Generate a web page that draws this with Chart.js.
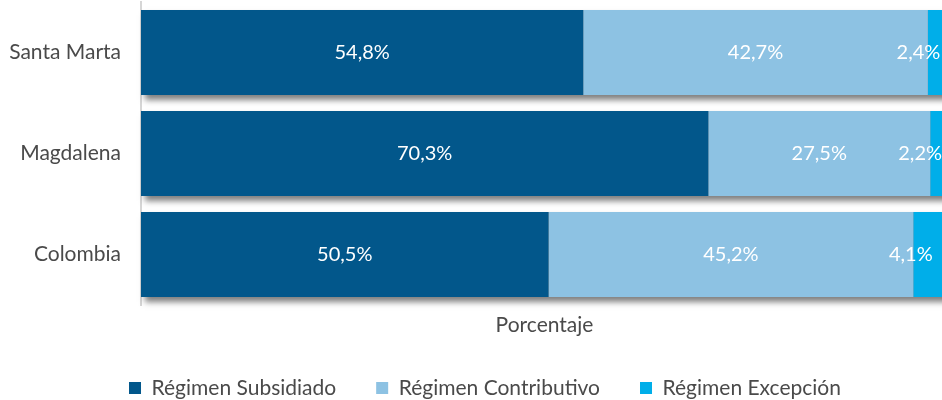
<!DOCTYPE html>
<html><head><meta charset="utf-8">
<script src="https://cdn.jsdelivr.net/npm/chart.js@4/dist/chart.umd.min.js"></script>
<style>html,body{margin:0;padding:0;background:#fff;overflow:hidden;width:942px;height:400px}#wrap{width:948px;height:400px;position:relative}</style>
</head><body><div id="wrap"><canvas id="c"></canvas></div>
<script>
const categories = ['Santa Marta', 'Magdalena', 'Colombia'];
const seriesNames = ['Régimen Subsidiado', 'Régimen Contributivo', 'Régimen Excepción'];
const subsidiado = [54.8, 70.3, 50.5];
const contributivo = [42.7, 27.5, 45.2];
const excepcion = [2.4, 2.2, 4.1];
const axisTitle = 'Porcentaje';

const colors = ['#02578B', '#8DC2E3', '#00AEE9'];
const FONT = 'Lato, "Open Sans", sans-serif';
const TEXT = '#4a4a4a';

const fmt = v => v.toFixed(1).replace('.', ',') + '%';

const shadowPlugin = {
  id: 'barShadow',
  beforeDatasetsDraw(chart) {
    const ctx = chart.ctx;
    const metas = chart.getSortedVisibleDatasetMetas();
    if (!metas.length) return;
    const n = metas[0].data.length;
    ctx.save();
    ctx.shadowColor = 'rgba(0,0,0,0.5)';
    ctx.shadowBlur = 6;
    ctx.shadowOffsetX = 4;
    ctx.shadowOffsetY = 5;
    ctx.fillStyle = '#888';
    for (let i = 0; i < n; i++) {
      let l = Infinity, r = -Infinity, t = 0, b = 0;
      metas.forEach(m => {
        const p = m.data[i].getProps(['x', 'y', 'base', 'height'], true);
        l = Math.min(l, p.base, p.x); r = Math.max(r, p.base, p.x);
        t = p.y - p.height / 2; b = p.y + p.height / 2;
      });
      ctx.fillRect(l, t, r - l, b - t);
    }
    ctx.restore();
  }
};

const labelPlugin = {
  id: 'segLabels',
  afterDatasetsDraw(chart) {
    const ctx = chart.ctx;
    ctx.save();
    ctx.font = '20px ' + FONT;
    ctx.fillStyle = '#ffffff';
    ctx.textAlign = 'center';
    ctx.textBaseline = 'middle';
    chart.getSortedVisibleDatasetMetas().forEach(m => {
      const ds = chart.data.datasets[m.index];
      m.data.forEach((el, i) => {
        const p = el.getProps(['x', 'y', 'base'], true);
        const txt = fmt(ds.data[i]);
        const w = ctx.measureText(txt).width;
        let cx = (p.x + p.base) / 2;
        if (w > Math.abs(p.x - p.base)) cx -= 19;
        ctx.fillText(txt, cx, p.y);
      });
    });
    ctx.restore();
  }
};

const legendShift = {
  id: 'legendShift',
  afterLayout(chart) {
    const lg = chart.legend;
    if (!lg) return;
    const dx = 11, dy = 8.5;
    lg.left += dx; lg.right += dx;
    lg.top += dy; lg.bottom += dy;
  }
};

new Chart(document.getElementById('c'), {
  type: 'bar',
  data: {
    labels: categories,
    datasets: [
      { label: seriesNames[0], data: subsidiado, backgroundColor: colors[0], borderWidth: 0 },
      { label: seriesNames[1], data: contributivo, backgroundColor: colors[1], borderWidth: 0 },
      { label: seriesNames[2], data: excepcion, backgroundColor: colors[2], borderWidth: 0 }
    ]
  },
  options: {
    indexAxis: 'y',
    responsive: true,
    maintainAspectRatio: false,
    animation: false,
    datasets: { bar: { barPercentage: 0.84, categoryPercentage: 1.0 } },
    layout: { autoPadding: false, padding: { left: 0, right: 0, top: 2, bottom: 0 } },
    scales: {
      x: {
        stacked: true, min: 0, max: 100,
        grid: { display: false, drawTicks: false },
        border: { display: false },
        ticks: { display: false },
        title: { display: true, text: axisTitle, color: TEXT, font: { family: FONT, size: 21 }, padding: { top: 0, bottom: -8.6 } },
        afterFit(s) { s.height = 24; s.paddingLeft = 0; s.paddingRight = 0; }
      },
      y: {
        stacked: true,
        grid: { display: false, drawTicks: false },
        border: { display: true, color: '#d6d6d6', width: 2 },
        ticks: { color: TEXT, font: { family: FONT, size: 21 }, padding: 20 },
        afterFit(s) { s.width = 141; s.paddingTop = 0; s.paddingBottom = 0; }
      }
    },
    plugins: {
      legend: {
        position: 'bottom',
        labels: { boxWidth: 12, boxHeight: 12, padding: 40, color: TEXT, font: { family: FONT, size: 21 } }
      },
      tooltip: { enabled: false }
    }
  },
  plugins: [shadowPlugin, labelPlugin, legendShift]
});
</script>
</body></html>
